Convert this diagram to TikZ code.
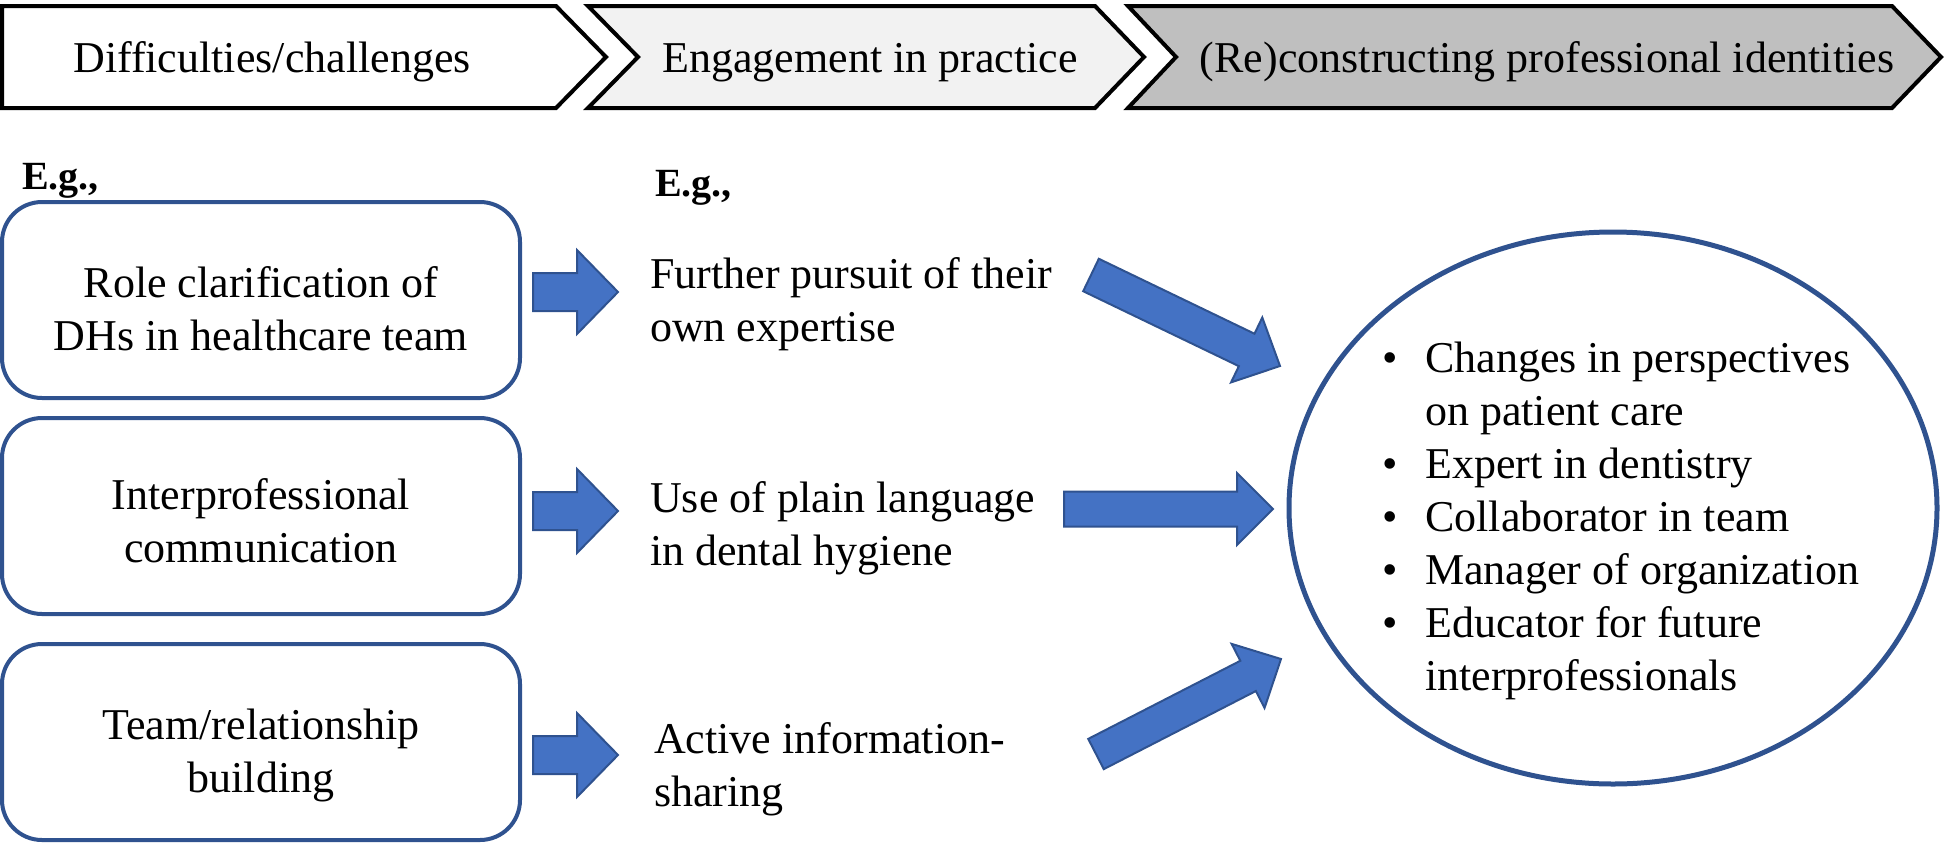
\documentclass[tikz,border=0pt]{standalone}
\usepackage{fontspec}
\setmainfont{Liberation Serif}
\usetikzlibrary{calc,shapes.geometric}
\definecolor{boxblue}{RGB}{47,82,143}
\definecolor{arrfill}{RGB}{68,114,196}
\definecolor{arrline}{RGB}{47,82,143}
\definecolor{chevB}{RGB}{242,242,242}
\definecolor{chevC}{RGB}{191,191,191}
\newcommand{\bigfont}{\fontsize{44}{53}\selectfont}
\newcommand{\egfont}{\fontsize{40}{48}\selectfont\bfseries}
% #1 tail, #2 tip, #3 half shaft, #4 half head, #5 head length
\newcommand{\blockarrow}[5]{%
  \coordinate (tmpH) at ($(#2)!#5!(#1)$);
  \filldraw[arrowstyle]
    ($(#1)!#3!90:(#2)$) -- ($(tmpH)!#3!90:(#2)$) -- ($(tmpH)!#4!90:(#2)$) -- (#2)
    -- ($(tmpH)!#4!-90:(#2)$) -- ($(tmpH)!#3!-90:(#2)$) -- ($(#1)!#3!-90:(#2)$) -- cycle;
}
\begin{document}
\begin{tikzpicture}[x=1pt,y=-1pt,
  chevron/.style={draw=black, line width=4pt, line join=miter},
  box/.style={draw=boxblue, line width=4pt, rounded corners=40pt, inner sep=0pt, minimum width=518pt, minimum height=196pt},
  txt/.style={inner sep=0pt, font=\bigfont},
  eg/.style={inner sep=0pt, font=\egfont, anchor=base west},
  arrowstyle/.style={fill=arrfill, draw=arrline, line width=2pt, line join=miter}]
\useasboundingbox (0,0) rectangle (1952,844);
% header chevrons
\draw[chevron, fill=white] (2,6) -- (556,6) -- (606,57) -- (556,108) -- (2,108) -- cycle;
\draw[chevron, fill=chevB] (588,6) -- (1095,6) -- (1144,57) -- (1095,108) -- (588,108) -- (638,57) -- cycle;
\draw[chevron, fill=chevC] (1128,6) -- (1892,6) -- (1941,57) -- (1892,108) -- (1128,108) -- (1176,57) -- cycle;
\node[txt, anchor=base] (h1) at (272,72) {Difficulties/challenges};
\node[txt, anchor=base] (h2) at (870,72) {Engagement in practice};
\node[txt, anchor=base] (h3) at (1547,72) {(Re)constructing professional identities};
% E.g. labels
\node[eg] (eg1) at (22,189) {E.g.,};
\node[eg] (eg2) at (655,196) {E.g.,};
% left boxes
\node[box] (b1) at (261,300) {};
\node[box] (b2) at (261,516) {};
\node[box] (b3) at (261,742) {};
\node[txt, anchor=base] (b1t) at (261,297) {\parbox[t]{510pt}{\centering Role clarification of\\DHs in healthcare team}};
\node[txt, anchor=base] (b2t) at (261,509) {\parbox[t]{510pt}{\centering Interprofessional\\communication}};
\node[txt, anchor=base] (b3t) at (261,739) {\parbox[t]{510pt}{\centering Team/relationship\\building}};
% middle texts
\node[txt, anchor=base west] (m1) at (650,288) {\parbox[t]{420pt}{Further pursuit of their\\own expertise}};
\node[txt, anchor=base west] (m2) at (650,512) {\parbox[t]{420pt}{Use of plain language\\in dental hygiene}};
\node[txt, anchor=base west] (m3) at (654,753) {\parbox[t]{420pt}{Active information-\\sharing}};
% ellipse
\node[draw=boxblue, line width=5pt, ellipse, inner sep=0pt, minimum width=648pt, minimum height=552pt] (ell) at (1613,508) {};
\node[txt, anchor=base west] (list) at (1382,372) {\parbox[t]{560pt}{%
\makebox[43pt][l]{•}Changes in perspectives\\
\hspace*{43pt}on patient care\\
\makebox[43pt][l]{•}Expert in dentistry\\
\makebox[43pt][l]{•}Collaborator in team\\
\makebox[43pt][l]{•}Manager of organization\\
\makebox[43pt][l]{•}Educator for future\\
\hspace*{43pt}interprofessionals}};
% arrow end points
\coordinate (s1a) at (533,292); \coordinate (s1b) at (618,292);
\coordinate (s2a) at (533,511); \coordinate (s2b) at (618,511);
\coordinate (s3a) at (533,755); \coordinate (s3b) at (618,755);
\coordinate (g1a) at (1091,275); \coordinate (g1b) at (1280,366);
\coordinate (g2a) at (1064,509); \coordinate (g2b) at (1273,509);
\coordinate (g3a) at (1096,754); \coordinate (g3b) at (1281,659);
\blockarrow{s1a}{s1b}{19pt}{42pt}{41pt}
\blockarrow{s2a}{s2b}{19pt}{42pt}{41pt}
\blockarrow{s3a}{s3b}{19pt}{42pt}{41pt}
\blockarrow{g1a}{g1b}{18pt}{36pt}{37pt}
\blockarrow{g2a}{g2b}{17.5pt}{36pt}{36pt}
\blockarrow{g3a}{g3b}{17pt}{36pt}{37pt}
\end{tikzpicture}
\end{document}
